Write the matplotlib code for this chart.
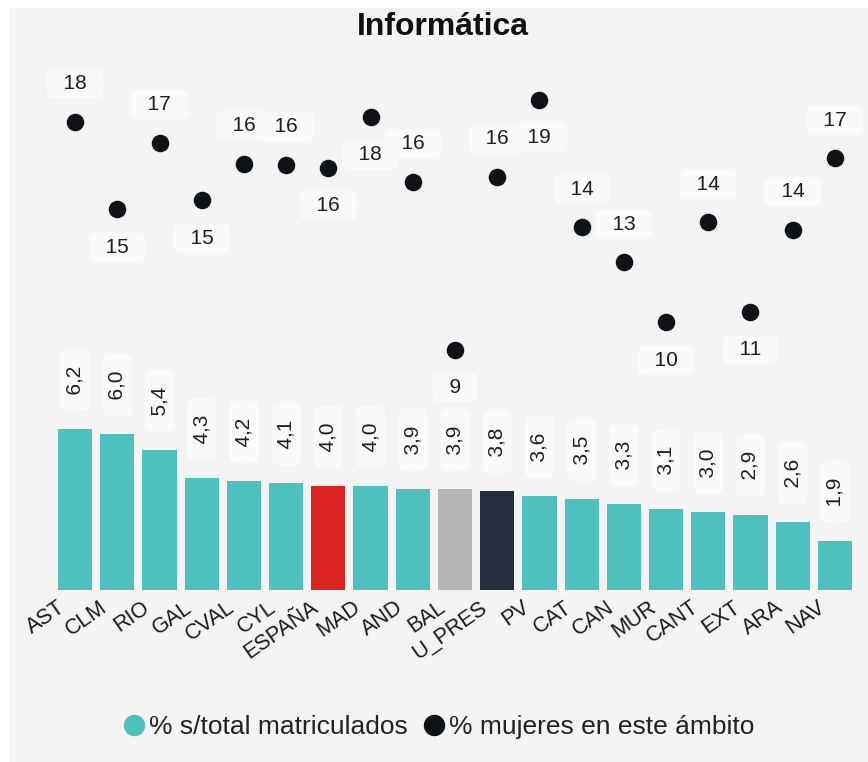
import matplotlib.pyplot as plt
from matplotlib.lines import Line2D
from matplotlib.patches import Rectangle
import matplotlib.transforms as mtransforms

plt.rcParams['font.family'] = ['Liberation Sans', 'DejaVu Sans']

# -------------------------
# Data
# -------------------------
regions = ["AST", "CLM", "RIO", "GAL", "CVAL", "CYL", "ESPAÑA", "MAD", "AND", "BAL",
           "U_PRES", "PV", "CAT", "CAN", "MUR", "CANT", "EXT", "ARA", "NAV"]
pct_matriculados = [6.2, 6.0, 5.4, 4.3, 4.2, 4.1, 4.0, 4.0, 3.9, 3.9,
                    3.8, 3.6, 3.5, 3.3, 3.1, 3.0, 2.9, 2.6, 1.9]
pct_mujeres = [18.0, 14.65, 17.2, 15.0, 16.4, 16.35, 16.25, 18.2, 15.7, 9.25,
               15.9, 18.85, 13.95, 12.6, 10.3, 14.15, 10.7, 13.85, 16.6]

# label placement for the dots (up / down)
dot_label_pos = ["up", "down", "up", "down", "up", "up", "down", "down", "up", "down",
                 "up", "down", "up", "up", "down", "up", "down", "up", "up"]

teal = "#4ec1be"
special = {"ESPAÑA": "#dd2222", "BAL": "#b5b5b5", "U_PRES": "#262e3d"}
bar_colors = [special.get(r, teal) for r in regions]
dot_color = "#0f1217"
box = dict(boxstyle="round,pad=0.25,rounding_size=0.35", fc="#fafafa", ec="none")

fig = plt.figure(figsize=(8.68, 7.62), dpi=100, facecolor="white")
fig.patches.append(Rectangle((9 / 868, 0), 1, 1 - 8 / 762, transform=fig.transFigure,
                             facecolor="#f4f4f4", edgecolor="none", zorder=-10))

ax = fig.add_axes([54 / 868, 172 / 762, 802 / 868, 533 / 762])
ax.set_facecolor("none")

x = list(range(len(regions)))
ax.bar(x, pct_matriculados, width=0.81, color=bar_colors, zorder=2)
ax.scatter(x, pct_mujeres, s=135, color=dot_color, zorder=3)

# bar value labels (rotated)
for xi, v in zip(x, pct_matriculados):
    ax.annotate("  " + f"{v:.1f}".replace(".", ",") + "  ", (xi, v),
                xytext=(0, 35.3), textcoords="offset points", rotation=90,
                ha="center", va="center", fontsize=15, color="#1e1e1e", bbox=box, zorder=4)

# dot value labels
for xi, v, pos in zip(x, pct_mujeres, dot_label_pos):
    dy = 27.4 if pos == "up" else -27.4
    ax.annotate("  " + f"{v:.0f}" + "  ", (xi, v),
                xytext=(0, dy), textcoords="offset points",
                ha="center", va="center", fontsize=15, color="#1e1e1e", bbox=box, zorder=4)

ax.set_xlim(-0.5, len(regions) - 0.5)
ax.set_ylim(0, 20.5)
ax.set_yticks([])
ax.set_xticks(x)
ax.set_xticklabels(regions, rotation=35, ha="right", va="top",
                   rotation_mode="anchor", fontsize=15.5, color="#1a1a1a")
ax.tick_params(axis="x", length=0, pad=2)
offset = mtransforms.ScaledTranslation(-0.18, -0.04, fig.dpi_scale_trans)
for lbl in ax.get_xticklabels():
    lbl.set_transform(lbl.get_transform() + offset)
for s in ax.spines.values():
    s.set_visible(False)

fig.text(0.51, 1 - 27 / 762, "Informática", ha="center", va="center",
         fontsize=23, fontweight="bold", color="#111111")

handles = [
    Line2D([], [], marker="o", ls="none", markersize=14.4, color=teal),
    Line2D([], [], marker="o", ls="none", markersize=14.4, color=dot_color),
]
fig.legend(handles, ["% s/total matriculados", "% mujeres en este ámbito"],
           loc="center", bbox_to_anchor=(0.506, 1 - 727 / 762), ncol=2, frameon=False,
           fontsize=19, handlelength=0.77, handletextpad=0.2, columnspacing=0.58,
           labelcolor="#222222")

fig.savefig("out.png", dpi=100, facecolor=fig.get_facecolor())
